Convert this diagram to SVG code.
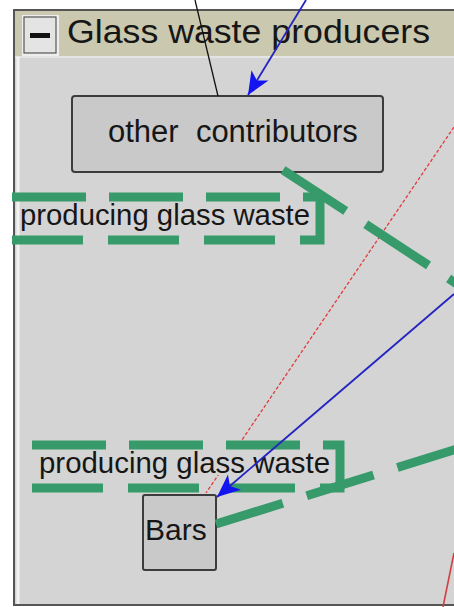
<svg xmlns="http://www.w3.org/2000/svg" width="454" height="607" viewBox="0 0 454 607">
  <style>
    .txt { font-family: "Liberation Sans", Arial, sans-serif; fill: #161616; }
    .node { fill: #c9c9c9; stroke: #3c3c3c; stroke-width: 2; }
    .green { fill: none; stroke: #379a6b; stroke-width: 9; stroke-linecap: butt; }
    .blue { fill: none; stroke: #2424c0; stroke-width: 1.8; }
  </style>
  <defs>
    <marker id="arrowBlue" markerUnits="userSpaceOnUse" viewBox="-24 -11 25 22" markerWidth="25" markerHeight="22" refX="0" refY="0" orient="auto">
      <path d="M0,0 L-23,-10 L-17,0 L-23,10 Z" fill="#1414f0"/>
    </marker>
    <g id="labelShape">
      <rect x="20" y="3" width="292" height="27" fill="#d4d4d4"/>
      <path class="green" d="M12,0 H280" stroke-dasharray="74 23"/>
      <path class="green" d="M12,43 H277" stroke-dasharray="71 25"/>
      <path class="green" d="M303,0 H320 V43 H300"/>
    </g>
  </defs>

  <!-- container -->
  <g id="container">
    <rect x="14" y="10" width="460" height="595" fill="#d4d4d4" stroke="#555" stroke-width="2"/>
    <rect x="15" y="11" width="459" height="45" fill="#cac8ae"/>
    <line x1="15" y1="57" x2="454" y2="57" stroke="#e4e4e4" stroke-width="2"/>
    <line x1="18" y1="57" x2="18" y2="604" stroke="#f2f2f2" stroke-width="3"/>
    <rect x="22" y="15" width="37" height="41" fill="#eeeeee"/>
    <rect x="24" y="17" width="32" height="36" fill="#e4e4e4" stroke="#555" stroke-width="1.2"/>
    <rect x="30" y="33" width="20" height="5" fill="#111"/>
    <text class="txt" x="67" y="43" font-size="34" textLength="363" lengthAdjust="spacingAndGlyphs">Glass waste producers</text>
  </g>

  <!-- nodes -->
  <g id="other-contributors">
    <rect class="node" x="72" y="96" width="311" height="76" rx="3"/>
    <text class="txt" x="108" y="142" font-size="31" xml:space="preserve">other  contributors</text>
  </g>
  <g id="bars">
    <rect class="node" x="143" y="495" width="73" height="75" rx="2"/>
    <text class="txt" x="145" y="540" font-size="30">Bars</text>
  </g>

  <!-- connectors -->
  <g id="connectors">
    <line x1="454" y1="127" x2="206" y2="493" stroke="#e23c3c" stroke-width="1.3" stroke-dasharray="3.5 2"/>
    <line x1="454" y1="553" x2="443" y2="607" stroke="#d04040" stroke-width="1.6"/>
    <line class="green" x1="283" y1="170" x2="460" y2="286" stroke-dasharray="75 24"/>
    <line class="green" x1="216" y1="524" x2="460" y2="448" stroke-dasharray="70 25"/>
  </g>

  <g id="label-1">
    <use href="#labelShape" transform="translate(0,197)"/>
    <text class="txt" x="20" y="225" font-size="29" textLength="290" lengthAdjust="spacingAndGlyphs">producing glass waste</text>
  </g>
  <g id="label-2">
    <use href="#labelShape" transform="translate(20,445)"/>
    <text class="txt" x="39" y="473" font-size="29" textLength="291" lengthAdjust="spacingAndGlyphs">producing glass waste</text>
  </g>

  <g id="connectors-top">
    <line x1="195" y1="0" x2="218" y2="96" stroke="#111" stroke-width="1.3"/>
    <line class="blue" x1="306" y1="0" x2="248" y2="95" marker-end="url(#arrowBlue)"/>
    <line class="blue" x1="454" y1="294" x2="217" y2="497" marker-end="url(#arrowBlue)"/>
  </g>
</svg>
